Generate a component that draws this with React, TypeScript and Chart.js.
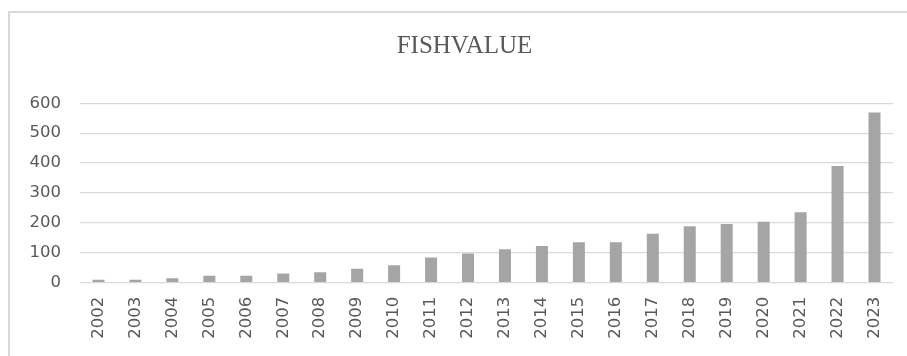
import React, { useEffect, useRef } from "react";
import { Chart, registerables } from "chart.js";

Chart.register(...registerables);

const years: string[] = [
  "2002", "2003", "2004", "2005", "2006", "2007", "2008", "2009", "2010", "2011", "2012",
  "2013", "2014", "2015", "2016", "2017", "2018", "2019", "2020", "2021", "2022", "2023",
];
const fishValue: number[] = [
  10, 10, 15, 23, 23, 31, 35, 47, 58, 84, 98,
  112, 123, 135, 135, 164, 189, 196, 204, 236, 390, 569,
];
const chartTitle = "FISHVALUE";
const yMin = 0;
const yMax = 600;
const yStep = 100;

export default function App() {
  const canvasRef = useRef<HTMLCanvasElement | null>(null);

  useEffect(() => {
    if (!canvasRef.current) return;
    const tickFont = { family: "'DejaVu Sans', sans-serif", size: 16.5, weight: "normal" as const };
    const chart = new Chart(canvasRef.current, {
      type: "bar",
      data: {
        labels: years,
        datasets: [
          {
            label: chartTitle,
            data: fishValue,
            backgroundColor: "#A5A5A5",
            borderWidth: 0,
            barPercentage: 0.325,
            categoryPercentage: 1,
            yAxisID: "y",
          },
        ],
      },
      options: {
        animation: false,
        responsive: false,
        maintainAspectRatio: false,
        layout: { padding: { left: 0, right: 0, top: 0, bottom: 0 } },
        plugins: {
          legend: { display: false },
          tooltip: { enabled: false },
          title: {
            display: true,
            text: chartTitle,
            color: "#595959",
            font: { family: "'Liberation Serif', serif", size: 25, weight: "normal" },
            padding: { top: 31.3, bottom: 42 },
          },
        },
        scales: {
          x: {
            grid: { display: false, drawTicks: false },
            border: { display: false },
            ticks: {
              autoSkip: false,
              minRotation: 90,
              maxRotation: 90,
              padding: 14,
              color: "#595959",
              font: tickFont,
            },
            afterFit: (scale: any) => {
              scale.height = 73.3;
            },
          },
          y: {
            position: "left",
            min: yMin,
            max: yMax,
            grid: { color: "#D9D9D9", lineWidth: 1.3, drawTicks: false },
            border: { display: false },
            ticks: {
              stepSize: yStep,
              padding: 19,
              color: "#595959",
              font: tickFont,
            },
            afterFit: (scale: any) => {
              scale.width = 80;
            },
          },
          yRightSpace: {
            type: "linear",
            position: "right",
            min: yMin,
            max: yMax,
            grid: { display: false, drawTicks: false },
            border: { display: false },
            ticks: { display: false },
            afterFit: (scale: any) => {
              scale.width = 36;
            },
          },
        },
      },
    });
    return () => chart.destroy();
  }, []);

  return (
    <div
      style={{
        position: "absolute",
        left: 0,
        top: 0,
        width: 907,
        height: 356,
        overflow: "hidden",
        background: "#FFFFFF",
      }}
    >
      <div
        style={{
          position: "absolute",
          left: 8,
          top: 11,
          width: 1000,
          height: 1000,
          border: "2px solid #D9D9D9",
        }}
      />
      <canvas
        ref={canvasRef}
        width={929}
        height={356}
        style={{ position: "absolute", left: 0, top: 0, width: 929, height: 356 }}
      />
    </div>
  );
}
